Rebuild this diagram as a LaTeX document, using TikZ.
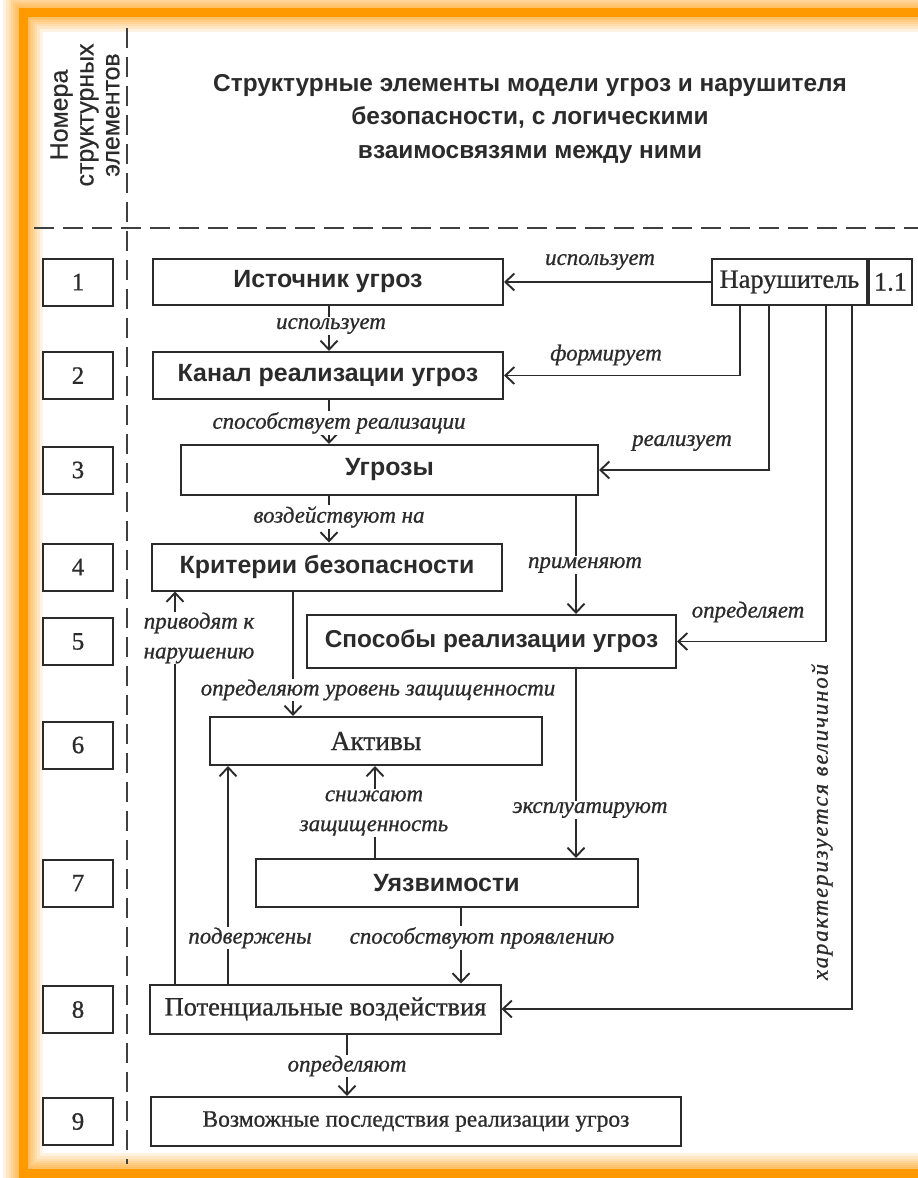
\documentclass[tikz,border=0pt]{standalone}
\usepackage{fontspec}
\setmainfont{Liberation Serif}[FakeBold=0.8]
\newfontfamily\sansf{Liberation Sans}
\newfontfamily\sanslight{Liberation Sans}[FakeBold=0.5]
\newfontfamily\spacedserif{Liberation Serif}[LetterSpace=8,FakeBold=0.8]
\usetikzlibrary{arrows.meta}
\definecolor{ink}{HTML}{2B2B2B}
\definecolor{frameorange}{HTML}{FF9900}

\begin{document}
\begin{tikzpicture}[x=1bp,y=-1bp,
  every node/.style={text=ink},
  box/.style={draw=ink, line width=2bp, rectangle, inner sep=0pt, fill=white},
  numbox/.style={box, minimum width=70bp, minimum height=47bp, font=\fontsize{25}{30}\selectfont},
  sbox/.style={box, font=\sansf\bfseries\fontsize{25}{30}\selectfont},
  rbox/.style={box, font=\fontsize{26.5}{30}\selectfont},
  lab/.style={font=\itshape\fontsize{23}{30}\selectfont, inner sep=1bp, fill=white, align=center},
  freelab/.style={lab, fill=none},
  conn/.style={draw=ink, line width=1.9bp},
  arr/.style={conn, -{Straight Barb[length=9bp,width=17bp]}},
  sepline/.style={draw=ink!90, line width=2.4bp, dash pattern=on 20bp off 9bp},
]
\useasboundingbox (0,0) rectangle (918,1178);
\fill[white] (0,0) rectangle (918,1178);

% orange frame with a soft glow
\begin{scope}
  \clip (0,0) rectangle (918,1178);
  \foreach \w in {40,34,28,24,20,16,13}
    \draw[frameorange, opacity=0.12, line width=\w bp] (23,12) rectangle (945,1173);
  \draw[frameorange, line width=9bp] (23,12) rectangle (945,1173);
\end{scope}

% column separators
\draw[sepline] (127,28) -- (127,1164);
\draw[sepline] (34,228) -- (918,228);

% header
\node[rotate=90, align=center, font=\sanslight\fontsize{25}{26}\selectfont] (hdr) at (85,115)
  {Номера\\структурных\\элементов};
\node[align=center, font=\sansf\bfseries\fontsize{24.5}{34}\selectfont] (title) at (530,119)
  {Структурные элементы модели угроз и нарушителя\\безопасности, с логическими\\взаимосвязями между ними};

% element numbers
\node[numbox] (n1) at (78,282) {1};
\node[numbox] (n2) at (78,375.5) {2};
\node[numbox] (n3) at (78,470) {3};
\node[numbox] (n4) at (78,567) {4};
\node[numbox] (n5) at (78,641.5) {5};
\node[numbox] (n6) at (78,745) {6};
\node[numbox] (n7) at (78,883) {7};
\node[numbox] (n8) at (78,1009.5) {8};
\node[numbox] (n9) at (78,1121.5) {9};

% structural elements
\node[sbox, minimum width=350bp, minimum height=46bp] (src) at (328,282) {Источник угроз};
\node[sbox, minimum width=350bp, minimum height=47bp] (chan) at (328,375.5) {Канал реализации угроз};
\node[sbox, minimum width=417bp, minimum height=50bp] (thr) at (389.5,470) {Угрозы};
\node[sbox, minimum width=350bp, minimum height=47bp] (crit) at (327,567) {Критерии безопасности};
\node[sbox, minimum width=369bp, minimum height=53bp, font=\sansf\bfseries\fontsize{24.5}{30}\selectfont] (meth) at (491.5,641.5) {Способы реализации угроз};
\node[rbox, minimum width=332bp, minimum height=48bp, font=\fontsize{27.5}{30}\selectfont] (asset) at (376,741) {Активы};
\node[sbox, minimum width=382bp, minimum height=48bp] (vuln) at (446.5,883) {Уязвимости};
\node[rbox, minimum width=350bp, minimum height=49bp] (pot) at (325.5,1009) {Потенциальные воздействия};
\node[rbox, minimum width=530bp, minimum height=49bp, font=\fontsize{23.5}{28}\selectfont] (cons) at (416,1121.5) {Возможные последствия реализации угроз};

\node[rbox, minimum width=155bp, minimum height=46bp] (viol) at (789.5,282) {Нарушитель};
\node[rbox, minimum width=43bp, minimum height=46bp, anchor=west] (vnum) at (viol.east) {1.1};

% connector columns
\coordinate (c1) at (329,0);
\coordinate (c2) at (576,0);
\coordinate (c3) at (293,0);
\coordinate (c5) at (375,0);
\coordinate (c6) at (228,0);
\coordinate (c7) at (175,0);
\coordinate (c8) at (461,0);
\coordinate (c9) at (347,0);
\coordinate (r1) at (740,0);
\coordinate (r2) at (769,0);
\coordinate (r3) at (826,0);
\coordinate (r4) at (852,0);

% links between elements
\draw[arr] (src.south -| c1) -- (chan.north -| c1);
\node[lab] (l1) at (331,326) {использует};
\draw[arr] (chan.south -| c1) -- (thr.north -| c1);
\node[lab] (l2) at (339,423) {способствует реализации};
\draw[arr] (thr.south -| c1) -- (crit.north -| c1);
\node[lab] (l3) at (339,517) {воздействуют на};
\draw[arr] (thr.south -| c2) -- (meth.north -| c2);
\node[lab] (l4) at (585,565) {применяют};
\draw[arr] (crit.south -| c3) -- (asset.north -| c3);
\node[lab] (l5) at (378,690) {определяют уровень защищенности};
\draw[arr] (meth.south -| c2) -- (vuln.north -| c2);
\node[lab] (l6) at (590,810) {эксплуатируют};
\draw[arr] (vuln.north -| c5) -- (asset.south -| c5);
\node[lab] (l7) at (374,813) {снижают\\защищенность};
\draw[arr] (pot.north -| c6) -- (asset.south -| c6);
\node[lab] (l8) at (250,938) {подвержены};
\draw[arr] (pot.north -| c7) -- (crit.south -| c7);
\node[lab] (l9) at (199,638) {приводят к\\нарушению};
\draw[arr] (vuln.south -| c8) -- (pot.north -| c8);
\node[lab] (l10) at (482,938) {способствуют проявлению};
\draw[arr] (pot.south -| c9) -- (cons.north -| c9);
\node[lab] (l11) at (347,1066) {определяют};

% links from the violator
\draw[arr] (viol.west) -- (src.east);
\node[freelab] (l12) at (600,262) {использует};
\draw[arr] (viol.south -| r1) |- (chan.east);
\node[freelab] (l13) at (606,355) {формирует};
\draw[arr] (viol.south -| r2) |- (thr.east);
\node[freelab] (l14) at (682,443) {реализует};
\draw[arr] (viol.south -| r3) |- (meth.east);
\node[freelab] (l15) at (748,612) {определяет};
\draw[arr] (viol.south -| r4) |- (pot.east);
\node[freelab, rotate=90, font=\spacedserif\itshape\fontsize{23}{30}\selectfont] (l16) at (822,822) {характеризуется величиной};
\end{tikzpicture}
\end{document}
